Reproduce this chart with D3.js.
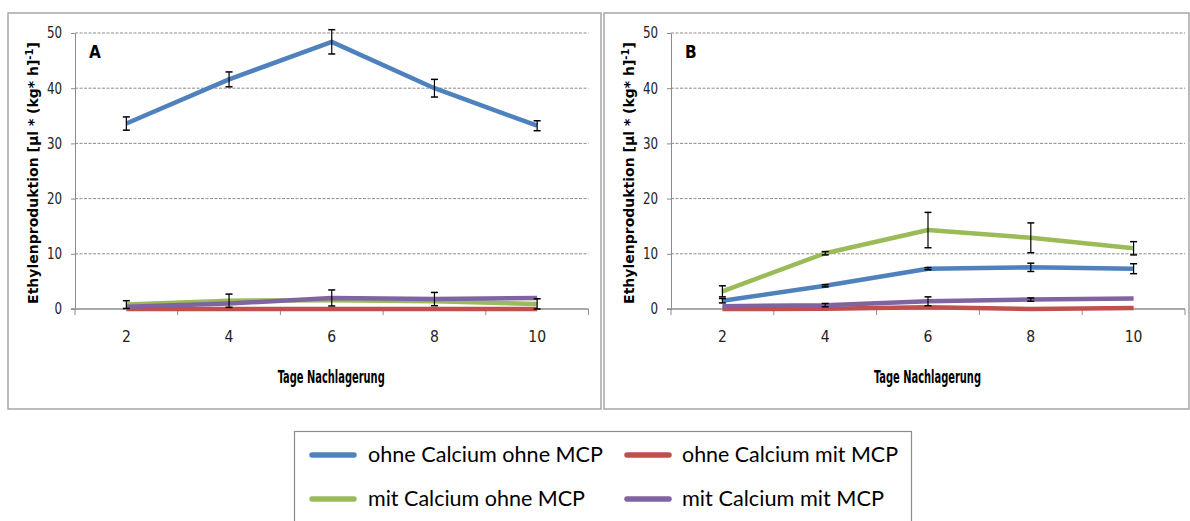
<!DOCTYPE html>
<html><head><meta charset="utf-8">
<script src="https://cdn.jsdelivr.net/npm/d3@7"></script>
<style>
html,body{margin:0;padding:0;background:#fff;}
svg{display:block;}
.narrow{font-family:"Liberation Sans Narrow","DejaVu Sans Condensed",Lato,sans-serif;}
</style></head>
<body>
<svg id="chart" width="1190" height="521"></svg>
<script>
// ---- data ----
const days = [2, 4, 6, 8, 10];
const yTicks = [0, 10, 20, 30, 40, 50];
const seriesNames = ["ohne Calcium ohne MCP", "ohne Calcium mit MCP", "mit Calcium ohne MCP", "mit Calcium mit MCP"];
const seriesColors = ["#4F81BD", "#C0504D", "#9BBB59", "#8064A2"];

// Panel A
const aOhneCaOhneMCP = [33.6, 41.6, 48.4, 40.0, 33.2];
const aOhneCaOhneMCPErr = [1.2, 1.35, 2.2, 1.6, 0.9];
const aOhneCaMitMCP = [0, 0, 0, 0, 0];
const aOhneCaMitMCPErr = [0, 0, 0, 0, 0];
const aMitCaOhneMCP = [0.8, 1.5, 1.6, 1.4, 0.9];
const aMitCaOhneMCPErr = [0.7, 1.2, 0, 0, 0.95];
const aMitCaMitMCP = [0.4, 1.0, 2.0, 1.8, 2.0];
const aMitCaMitMCPErr = [0, 0, 1.45, 1.2, 0];

// Panel B
const bOhneCaOhneMCP = [1.5, 4.2, 7.3, 7.55, 7.3];
const bOhneCaOhneMCPErr = [0.4, 0.2, 0.2, 0.75, 0.9];
const bOhneCaMitMCP = [0, 0.05, 0.3, 0, 0.2];
const bOhneCaMitMCPErr = [0, 0, 0, 0, 0];
const bMitCaOhneMCP = [3.2, 10.1, 14.3, 12.9, 11.0];
const bMitCaOhneMCPErr = [1.0, 0.3, 3.2, 2.7, 1.2];
const bMitCaMitMCP = [0.5, 0.7, 1.4, 1.7, 1.9];
const bMitCaMitMCPErr = [0, 0.3, 0.8, 0.3, 0];

const panels = [
  {letter: "A", box: [8, 13, 593, 396], plot: [75, 33, 588.5, 309],
   values: [aOhneCaOhneMCP, aOhneCaMitMCP, aMitCaOhneMCP, aMitCaMitMCP],
   errors: [aOhneCaOhneMCPErr, aOhneCaMitMCPErr, aMitCaOhneMCPErr, aMitCaMitMCPErr]},
  {letter: "B", box: [604, 13, 585, 396], plot: [671, 33, 1185, 309],
   values: [bOhneCaOhneMCP, bOhneCaMitMCP, bMitCaOhneMCP, bMitCaMitMCP],
   errors: [bOhneCaOhneMCPErr, bOhneCaMitMCPErr, bMitCaOhneMCPErr, bMitCaMitMCPErr]}
];

const svg = d3.select("#chart");
const yLabel = "Ethylenproduktion [µl * (kg* h]";

panels.forEach(p => {
  const [bx, by, bw, bh] = p.box;
  svg.append("rect").attr("x", bx).attr("y", by).attr("width", bw).attr("height", bh)
    .attr("fill", "#fff").attr("stroke", "#a6a6a6").attr("stroke-width", 1.5);

  const [x0, y0, x1, y1] = p.plot;
  const x = d3.scaleBand().domain(days).range([x0, x1]);
  const y = d3.scaleLinear().domain([0, 50]).range([y1, y0]);
  const cx = d => x(d) + x.bandwidth() / 2;
  const g = svg.append("g");

  // gridlines
  g.selectAll(".grid").data(yTicks.filter(t => t > 0)).join("line")
    .attr("x1", x0).attr("x2", x1).attr("y1", d => y(d)).attr("y2", d => y(d))
    .attr("stroke", "#8c8c8c").attr("stroke-width", 1).attr("stroke-dasharray", "3,1.5");

  // y axis
  const ya = g.append("g").attr("transform", `translate(${x0},0)`)
    .call(d3.axisLeft(y).tickValues(yTicks).tickSize(4).tickPadding(9).tickSizeOuter(0));
  ya.select(".domain").attr("stroke", "#8c8c8c");
  ya.selectAll(".tick line").attr("stroke", "#8c8c8c");
  ya.selectAll(".tick text").attr("class", "narrow").attr("font-size", 15.5).attr("fill", "#222")
    .attr("transform", "scale(0.85,1)").attr("x", -13 / 0.85);

  // x axis
  const xa = g.append("g").attr("transform", `translate(0,${y1})`)
    .call(d3.axisBottom(x).tickSize(0).tickPadding(22).tickSizeOuter(0));
  xa.select(".domain").remove();
  xa.selectAll(".tick text").attr("class", "narrow").attr("font-size", 15.5).attr("fill", "#222");
  g.append("line").attr("x1", x0 - 4).attr("x2", x1).attr("y1", y1).attr("y2", y1)
    .attr("stroke", "#8c8c8c").attr("stroke-width", 1.5);
  const bounds = days.map(d => x(d)).concat([x1]);
  g.selectAll(".xt").data(bounds).join("line")
    .attr("x1", d => d).attr("x2", d => d).attr("y1", y1).attr("y2", y1 + 6)
    .attr("stroke", "#8c8c8c").attr("stroke-width", 1);

  // series lines
  const line = d3.line().x((v, i) => cx(days[i])).y(v => y(v));
  p.values.forEach((vals, si) => {
    g.append("path").datum(vals).attr("d", line)
      .attr("fill", "none").attr("stroke", seriesColors[si]).attr("stroke-width", 4.5)
      .attr("stroke-linejoin", "round");
  });
  // error bars
  p.values.forEach((vals, si) => {
    vals.forEach((v, i) => {
      const e = p.errors[si][i];
      if (!e) return;
      const xx = cx(days[i]);
      const lo = Math.max(0, v - e), hi = v + e;
      g.append("line").attr("x1", xx).attr("x2", xx).attr("y1", y(lo)).attr("y2", y(hi))
        .attr("stroke", "#000").attr("stroke-width", 1.2);
      [lo, hi].forEach(t => g.append("line").attr("x1", xx - 3.5).attr("x2", xx + 3.5)
        .attr("y1", y(t)).attr("y2", y(t)).attr("stroke", "#000").attr("stroke-width", 1.5));
    });
  });

  // panel letter
  svg.append("text").attr("class", "narrow").attr("x", x0 + 14).attr("y", 58)
    .attr("font-size", 17).attr("font-weight", "bold").attr("fill", "#000").text(p.letter);

  // y label
  const yl = svg.append("text")
    .attr("transform", `translate(${x0 - 37},${(y0 + y1) / 2 + 2}) rotate(-90)`)
    .attr("text-anchor", "middle").attr("font-family", "DejaVu Sans, sans-serif")
    .attr("font-size", 14).attr("font-weight", "bold").attr("fill", "#000");
  yl.append("tspan").text(yLabel);
  yl.append("tspan").attr("dy", -5).attr("font-size", 10).text("-1");
  yl.append("tspan").attr("dy", 5).text("]");

  // x title
  svg.append("text").attr("class", "narrow").attr("x", (x0 + x1) / 2 - 54).attr("y", 383)
    .attr("font-size", 17.5).attr("font-weight", "bold")
    .attr("textLength", 107).attr("lengthAdjust", "spacingAndGlyphs")
    .attr("fill", "#000").text("Tage Nachlagerung");
});

// legend
const legWidths = [235, 216, 217, 202];
const lg = svg.append("g");
lg.append("rect").attr("x", 294.5).attr("y", 431.5).attr("width", 617).attr("height", 100)
  .attr("fill", "#fff").attr("stroke", "#8c8c8c").attr("stroke-width", 1.2);
const legPos = [[310, 455], [625, 455], [310, 499], [625, 499]];
seriesNames.forEach((name, i) => {
  const [lx, ly] = legPos[i];
  lg.append("line").attr("x1", lx + 2).attr("x2", lx + 44).attr("y1", ly).attr("y2", ly)
    .attr("stroke", seriesColors[i]).attr("stroke-width", 5.5).attr("stroke-linecap", "round");
  lg.append("text").attr("x", lx + 58 - (i % 2 ? 1 : 0)).attr("y", ly + 7)
    .attr("font-family", "Lato, 'Open Sans', sans-serif").attr("font-size", 20.5)
    .attr("textLength", legWidths[i]).attr("lengthAdjust", "spacingAndGlyphs")
    .attr("fill", "#000").text(name);
});
</script>
</body></html>
